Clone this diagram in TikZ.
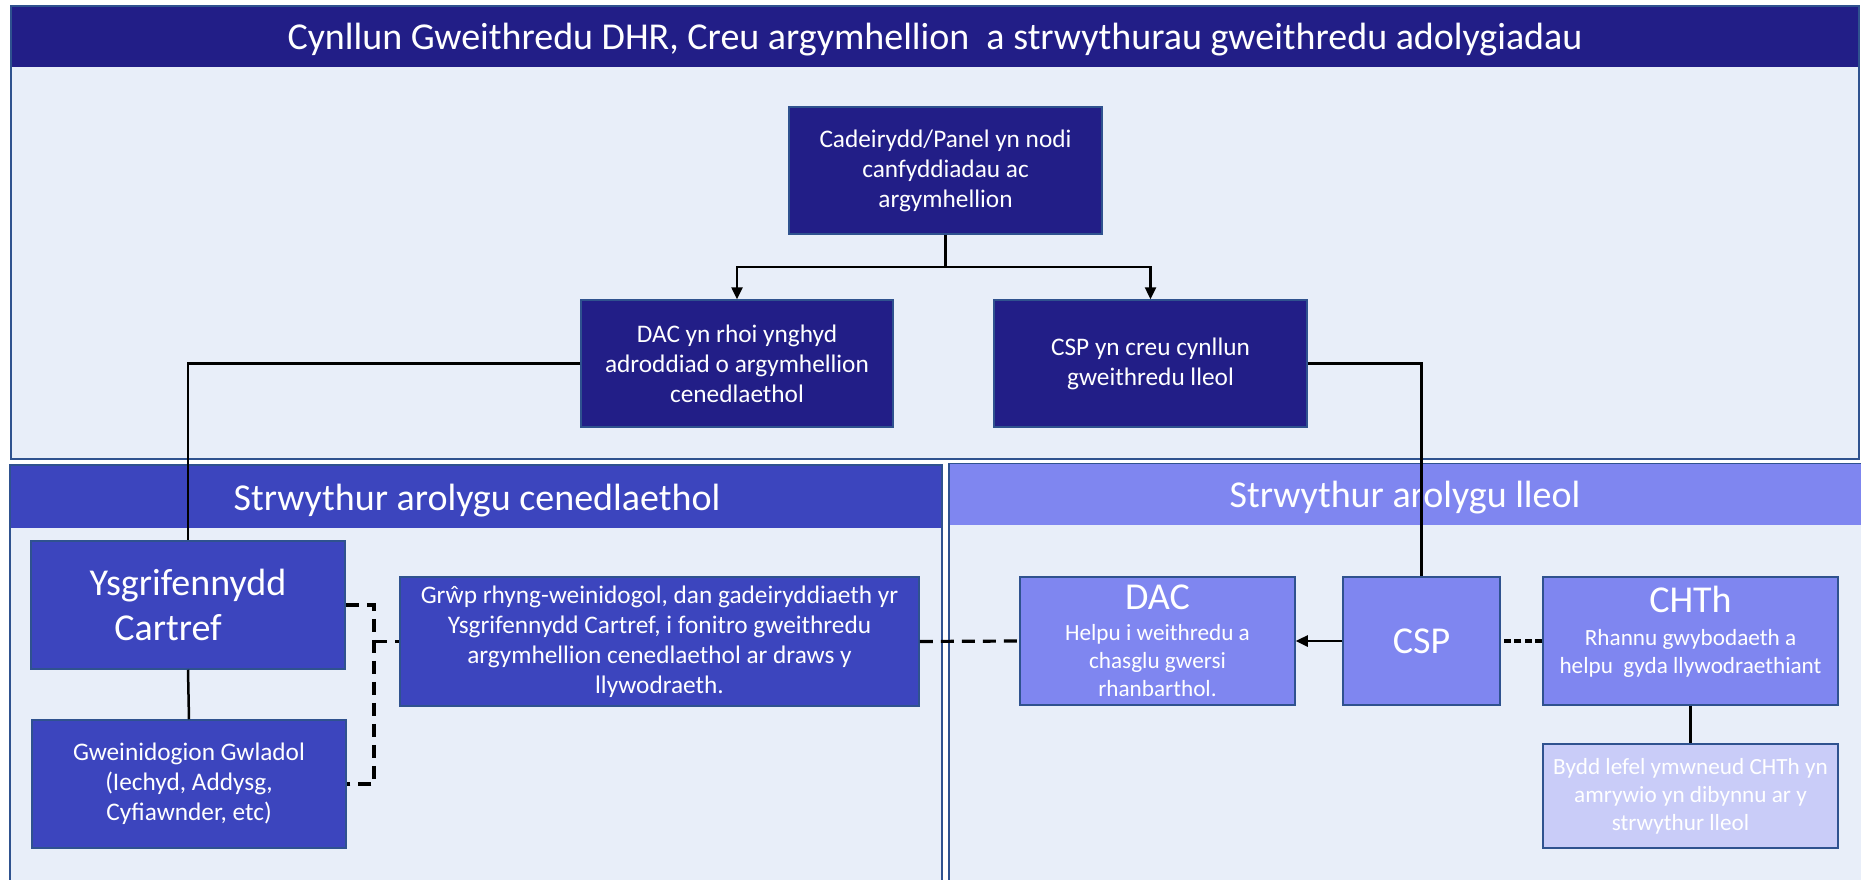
\documentclass[tikz,border=0pt]{standalone}
\usepackage{fontspec}
\setmainfont{Carlito}
\usetikzlibrary{arrows.meta}
\definecolor{navy}{HTML}{221E87}
\definecolor{midblue}{HTML}{3C45BE}
\definecolor{litpurple}{HTML}{7F86F0}
\definecolor{lavender}{HTML}{C9CCF8}
\definecolor{bgblue}{HTML}{E8EEF9}
\definecolor{bord}{HTML}{2F528F}
\begin{document}
\begin{tikzpicture}[x=1pt,y=-1pt,
  box/.style={draw=bord, line width=1.5pt, text=white, align=center, inner sep=0pt},
  navybox/.style={box, fill=navy},
  midbox/.style={box, fill=midblue},
  litbox/.style={box, fill=litpurple},
  lavbox/.style={box, fill=lavender},
  lbl/.style={text=white, align=center, inner sep=0pt},
  ttl/.style={text=white, inner sep=0pt, anchor=base, font=\fontsize{38}{46}\selectfont},
  fa/.style={font=\fontsize{25.3}{30}\selectfont},
  fb/.style={font=\fontsize{38}{45}\selectfont},
  fc/.style={font=\fontsize{23.2}{28}\selectfont},
  conn/.style={line width=2.5pt, black},
  arr/.style={line width=2.5pt, black, -{Triangle[length=12pt,width=11pt]}},
  dsh/.style={line width=3.2pt, black, dash pattern=on 13pt off 8pt},
  dshb/.style={line width=3.2pt, black, dash pattern=on 7pt off 3.5pt},
  panel/.style={fill=bgblue, draw=bord, line width=2pt}
]
\useasboundingbox (0,0) rectangle (1861,880);
\clip (0,0) rectangle (1861,880);
\fill[white] (0,0) rectangle (1861,880);

% top frame
\draw[panel] (11,6) rectangle (1859,459);
\fill[navy] (12,7) rectangle (1858,67);
\node[ttl] (maintitle) at (935,50) {Cynllun Gweithredu DHR, Creu argymhellion\ \ a strwythurau gweithredu adolygiadau};

% left panel
\draw[panel] (10,465) rectangle (942,900);
\fill[midblue] (11,466) rectangle (941,528);
\node[ttl] (lefttitle) at (477,510) {Strwythur arolygu cenedlaethol};

% right panel
\draw[panel] (949,464) rectangle (1870,900);
\fill[litpurple] (950,464) rectangle (1870,525);
\node[ttl] (righttitle) at (1405,507) {Strwythur arolygu lleol};

% top boxes
\node[navybox, fa, minimum width=313pt, minimum height=127pt] (cad) at (945.5,170.5)
  {Cadeirydd/Panel yn nodi\\canfyddiadau ac\\argymhellion};
\node[navybox, fa, minimum width=312pt, minimum height=127pt] (dacT) at (737,363.5)
  {DAC yn rhoi ynghyd\\adroddiad o argymhellion\\cenedlaethol};
\node[navybox, fa, minimum width=313pt, minimum height=127pt] (cspT) at (1150.5,363.5)
  {CSP yn creu cynllun\\gweithredu lleol};

% national
\node[midbox, fb, minimum width=314pt, minimum height=128pt] (ysg) at (188,605)
  {Ysgrifennydd\\Cartref\hspace*{40pt}};
\node[midbox, fa, minimum width=314pt, minimum height=128pt] (gwe) at (189,784)
  {Gweinidogion Gwladol\\(Iechyd, Addysg,\\Cyfiawnder, etc)};
\node[midbox, fa, minimum width=519pt, minimum height=129pt] (grp) at (659.5,641.5)
  {Grŵp rhyng-weinidogol, dan gadeiryddiaeth yr\\Ysgrifennydd Cartref, i fonitro gweithredu\\argymhellion cenedlaethol ar draws y\\llywodraeth.};

% local
\node[litbox, fc, minimum width=275pt, minimum height=128pt] (dacL) at (1157.5,641)
  {{\fontsize{38}{45}\selectfont DAC}\\[3pt]Helpu i weithredu a\\chasglu gwersi\\rhanbarthol.};
\node[litbox, fb, minimum width=157pt, minimum height=128pt] (cspL) at (1421.5,641) {CSP};
\node[litbox, minimum width=295pt, minimum height=128pt] (chth) at (1690.5,641) {};
\node[lbl, fc] (chthtxt) at ([yshift=9pt]chth.center)
  {{\fontsize{38}{45}\selectfont CHTh}\\[5pt]Rhannu gwybodaeth a\\helpu\ \ gyda llywodraethiant};
\node[lavbox, fc, minimum width=295pt, minimum height=104pt] (bydd) at (1690.5,796)
  {Bydd lefel ymwneud CHTh yn\\amrywio yn dibynnu ar y\\strwythur lleol\hspace*{20pt}};

% connectors
\coordinate (split) at (945.5,267);
\coordinate (dmid) at (374,641.5);
\draw[conn] (cad.south) -- (split);
\draw[arr] (split) -| (dacT.north);
\draw[arr] (split) -| (cspT.north);
\draw[conn] (dacT.west) -| (ysg.north);
\draw[conn] (cspT.east) -| (cspL.north);
\draw[conn] (ysg.south) -- (gwe.north);
\draw[dsh] (ysg.east) -- (ysg.east -| dmid) -- (gwe.east -| dmid) -- (gwe.east);
\draw[dsh] (dmid) -- (grp.west);
\draw[dsh] (grp.east) -- (dacL.west);
\draw[arr] (cspL.west) -- (dacL.east);
\draw[dshb] (chth.west) -- (cspL.east);
\draw[conn] (chth.south) -- (bydd.north);
\end{tikzpicture}
\end{document}
